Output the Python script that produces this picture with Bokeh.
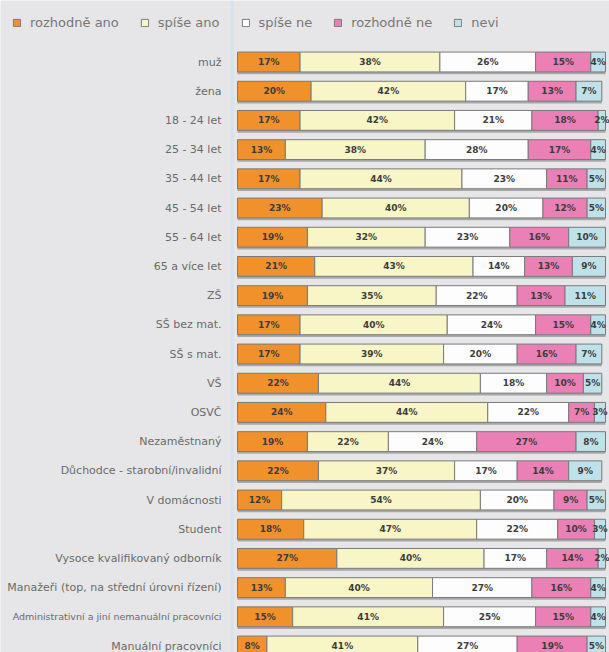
from bokeh.plotting import figure
from bokeh.models import ColumnDataSource, Range1d, Legend, LegendItem, Span
from bokeh.embed import file_html
from bokeh.resources import INLINE
from bokeh.core.properties import value

categories = [
    "muž", "žena", "18 - 24 let", "25 - 34 let", "35 - 44 let", "45 - 54 let",
    "55 - 64 let", "65 a více let", "ZŠ", "SŠ bez mat.", "SŠ s mat.", "VŠ",
    "OSVČ", "Nezaměstnaný", "Důchodce - starobní/invalidní", "V domácnosti",
    "Student", "Vysoce kvalifikovaný odborník",
    "Manažeři (top, na střední úrovni řízení)",
    "Administrativní a jiní nemanuální pracovníci", "Manuální pracovníci",
]
rozhodne_ano = [17, 20, 17, 13, 17, 23, 19, 21, 19, 17, 17, 22, 24, 19, 22, 12, 18, 27, 13, 15, 8]
spise_ano    = [38, 42, 42, 38, 44, 40, 32, 43, 35, 40, 39, 44, 44, 22, 37, 54, 47, 40, 40, 41, 41]
spise_ne     = [26, 17, 21, 28, 23, 20, 23, 14, 22, 24, 20, 18, 22, 24, 17, 20, 22, 17, 27, 25, 27]
rozhodne_ne  = [15, 13, 18, 17, 11, 12, 16, 13, 13, 15, 16, 10, 7, 27, 14, 9, 10, 14, 16, 15, 19]
nevi         = [4, 7, 2, 4, 5, 5, 10, 9, 11, 4, 7, 5, 3, 8, 9, 5, 3, 2, 4, 4, 5]

series_names = ["rozhodně ano", "spíše ano", "spíše ne", "rozhodně ne", "nevi"]
colors = ["#f1912b", "#f8f5c6", "#fdfdfd", "#ea80b5", "#bfe2ea"]

series = [rozhodne_ano, spise_ano, spise_ne, rozhodne_ne, nevi]
keys = ["s0", "s1", "s2", "s3", "s4"]
n = len(categories)
rows = list(range(n))

data = {"y": rows, "cat": categories}
for k, vals in zip(keys, series):
    data[k] = vals
source = ColumnDataSource(data)

totals = [sum(s[i] for s in series) for i in rows]

W, H = 609, 652
ppp = 3.68      # pixels per percent
x0 = 237        # pixel position of 0 %
row_px = 29.2   # row pitch
top_px = 61.5   # centre of first row

bg = "#e6e6e8"
p = figure(width=W, height=H,
           x_range=Range1d(-x0 / ppp, (W - x0) / ppp),
           y_range=Range1d((H - top_px) / row_px, -top_px / row_px),
           output_backend="svg", toolbar_location=None,
           x_axis_location=None, y_axis_location=None, min_border=0)
p.grid.visible = False
p.outline_line_color = None
p.background_fill_color = bg
p.border_fill_color = bg

p.add_layout(Span(location=-1.4, dimension="height", line_color="#d6e4ee", line_width=3))

# shadow under each bar
shadow = ColumnDataSource(dict(y=[r + 0.08 for r in rows], right=totals))
p.hbar(y="y", left=0, right="right", height=0.68, source=shadow,
       fill_color="#a8a8a8", line_color=None)

renderers = p.hbar_stack(keys, y="y", height=0.68, source=source,
                         fill_color=colors, line_color="#7a7a7a", line_width=1)

# segment labels
lx, ly, lt = [], [], []
for i in rows:
    acc = 0
    for s in series:
        v = s[i]
        lx.append(acc + v / 2)
        ly.append(i)
        lt.append(f"{v}%")
        acc += v
p.text(x=lx, y=ly, text=lt, text_align="center", text_baseline="middle",
       text_font=value("DejaVu Sans"), text_font_size="9px",
       text_font_style="bold", text_color="#3c3c3c")

# category labels (very long ones slightly smaller so they fit)
cat_src = ColumnDataSource(dict(
    x=[0] * n, y=rows, text=categories,
    size=["9.5px" if len(c) > 42 else "11px" for c in categories]))
p.text(x="x", y="y", text="text", source=cat_src, x_offset=-16,
       text_align="right", text_baseline="middle",
       text_font=value("DejaVu Sans"), text_font_size="size",
       text_color="#6a6a6a")

legend = Legend(items=[LegendItem(label=nm, renderers=[r]) for nm, r in zip(series_names, renderers)],
                orientation="horizontal", location=(12, H - 30),
                glyph_width=9, glyph_height=9, label_standoff=9, spacing=21,
                padding=0, margin=0, label_height=14,
                label_text_font="DejaVu Sans", label_text_font_size="13px",
                label_text_color="#777777",
                background_fill_alpha=0, border_line_alpha=0)
p.add_layout(legend)

open("out.html", "w").write(file_html(p, INLINE))
